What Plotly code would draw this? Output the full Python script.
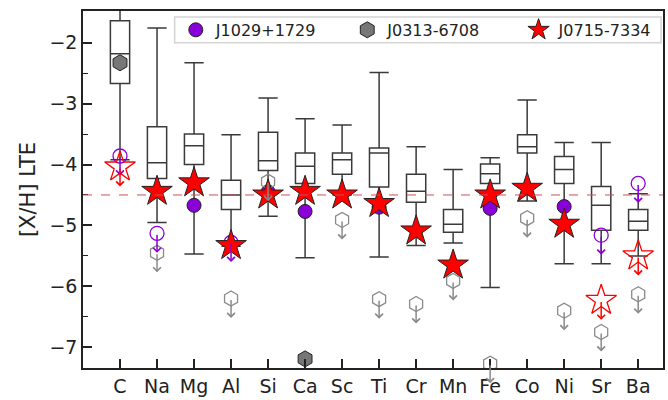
import plotly.graph_objects as go

elements = ["C", "Na", "Mg", "Al", "Si", "Ca", "Sc", "Ti", "Cr", "Mn", "Fe", "Co", "Ni", "Sr", "Ba"]
xpos = list(range(1, len(elements) + 1))

# Box statistics of the comparison sample
box_upper = [-1.40, -1.76, -2.33, -3.51, -2.91, -3.25, -3.35, -2.49, -3.71, -4.08, -3.89, -2.94, -3.64, -3.64, -4.48]
box_q3    = [-1.64, -3.38, -3.50, -4.26, -3.47, -3.81, -3.81, -3.73, -4.16, -4.74, -3.99, -3.51, -3.87, -4.36, -4.74]
box_med   = [-2.18, -3.97, -3.69, -4.50, -3.94, -4.03, -3.92, -3.81, -4.44, -4.98, -4.15, -3.71, -4.08, -4.67, -4.93]
box_q1    = [-2.67, -4.23, -4.00, -4.74, -4.10, -4.31, -4.16, -4.37, -4.62, -5.11, -4.31, -3.81, -4.31, -5.08, -5.08]
box_lower = [-3.92, -4.95, -5.47, -5.34, -4.85, -5.53, -4.50, -5.52, -5.33, -5.29, -6.02, -4.60, -5.63, -5.63, -5.50]

# J1029+1729
j1029_det_el = ["Mg", "Si", "Ca", "Ti", "Fe", "Ni"]
j1029_det_val = [-4.67, -4.45, -4.77, -4.70, -4.72, -4.69]
j1029_lim_el = ["C", "Na", "Al", "Sr", "Ba"]
j1029_lim_val = [-3.86, -5.13, -5.28, -5.16, -4.31]

# J0313-6708
j0313_det_el = ["C", "Ca"]
j0313_det_val = [-2.33, -7.19]
j0313_lim_el = ["Na", "Al", "Si", "Sc", "Ti", "Cr", "Mn", "Fe", "Co", "Ni", "Sr", "Ba"]
j0313_lim_val = [-5.45, -6.20, -4.28, -4.91, -6.21, -6.29, -5.91, -7.27, -4.88, -6.40, -6.75, -6.13]

# J0715-7334
j0715_det_el = ["Na", "Mg", "Al", "Si", "Ca", "Sc", "Ti", "Cr", "Mn", "Fe", "Co", "Ni"]
j0715_det_val = [-4.44, -4.30, -5.33, -4.50, -4.44, -4.50, -4.64, -5.09, -5.65, -4.50, -4.39, -4.98]
j0715_lim_el = ["C", "Sr", "Ba"]
j0715_lim_val = [-4.04, -6.23, -5.50]

ref_level = -4.5
arrow_len = 0.32

PURPLE = "#8a00d8"
GRAY = "#8a8a8a"
RED = "#ff0000"
FONT = "DejaVu Sans"

pos = {e: i + 1 for i, e in enumerate(elements)}

fig = go.Figure()

fig.add_trace(go.Box(
    x=xpos, q1=box_q1, median=box_med, q3=box_q3,
    lowerfence=box_lower, upperfence=box_upper,
    width=0.52, whiskerwidth=1, fillcolor="white",
    line=dict(color="#3a3a3a", width=1.5), boxpoints=False,
    showlegend=False, hoverinfo="skip",
))

def limits(els, vals, symbol, color, size):
    for e, v in zip(els, vals):
        fig.add_annotation(
            x=pos[e], y=v - arrow_len, ax=pos[e], ay=v, xref="x", yref="y",
            axref="x", ayref="y", text="", showarrow=True, arrowhead=4,
            arrowsize=1, arrowwidth=1.5, arrowcolor=color,
        )
    fig.add_trace(go.Scatter(
        x=[pos[e] for e in els], y=vals, mode="markers", showlegend=False,
        marker=dict(symbol=symbol, size=size, color=color,
                    line=dict(color=color, width=1.3)),
    ))

# purple
limits(j1029_lim_el, j1029_lim_val, "circle-open", PURPLE, 14)
fig.add_trace(go.Scatter(
    x=[pos[e] for e in j1029_det_el], y=j1029_det_val, mode="markers",
    name="J1029+1729", legend="legend",
    marker=dict(symbol="circle", size=14, color=PURPLE, line=dict(color="#222", width=1)),
))
# gray hexagons
limits(j0313_lim_el, j0313_lim_val, "hexagon-open", GRAY, 15)
fig.add_trace(go.Scatter(
    x=[pos[e] for e in j0313_det_el], y=j0313_det_val, mode="markers",
    name="J0313-6708", legend="legend2",
    marker=dict(symbol="hexagon", size=16, color="#777777", line=dict(color="#222", width=1)),
))
# red stars
limits(j0715_lim_el, j0715_lim_val, "star-open", RED, 23)
fig.add_trace(go.Scatter(
    x=[pos[e] for e in j0715_det_el], y=j0715_det_val, mode="markers",
    name="J0715-7334", legend="legend3",
    marker=dict(symbol="star", size=23, color=RED, line=dict(color="#222", width=1)),
))

fig.add_shape(type="line", xref="paper", x0=0, x1=1, yref="y", y0=ref_level, y1=ref_level,
              line=dict(color="#c8505a", width=1, dash="dash"), layer="above")

# legend frame
fig.add_shape(type="rect", xref="paper", yref="paper", x0=0.158, x1=0.9966, y0=0.911, y1=0.983,
              fillcolor="rgba(255,255,255,0.85)", line=dict(color="#d4d4d4", width=1.5),
              layer="above")

def leg(x):
    return dict(orientation="h", x=x, y=0.947, xanchor="left", yanchor="middle",
                bgcolor="rgba(0,0,0,0)", borderwidth=0,
                font=dict(size=16, family=FONT, color="#222"), itemsizing="trace")

fig.update_layout(
    width=668, height=400,
    margin=dict(l=83, r=3, t=11, b=29),
    paper_bgcolor="white", plot_bgcolor="white",
    font=dict(family=FONT, color="#222"),
    legend=leg(0.160), legend2=leg(0.4556), legend3=leg(0.751),
    xaxis=dict(range=[0, 15.67], tickmode="array", tickvals=xpos, ticktext=elements,
               ticks="inside", ticklen=9, tickwidth=1.5, tickcolor="#222",
               showline=True, linecolor="#222", linewidth=1.5, mirror=True,
               showgrid=False, zeroline=False, tickfont=dict(size=19, family=FONT)),
    yaxis=dict(range=[-7.34, -1.48], tickmode="array", tickvals=[-7, -6, -5, -4, -3, -2],
               ticks="inside", ticklen=9, tickwidth=1.5, tickcolor="#222",
               minor=dict(tickvals=[-7.0, -6.5, -5.5, -4.5, -3.5, -2.5], ticks="inside",
                          ticklen=5, tickwidth=1.2, tickcolor="#222"),
               showline=True, linecolor="#222", linewidth=1.5, mirror=True,
               showgrid=False, zeroline=False, tickfont=dict(size=19, family=FONT),
               title=dict(text="[X/H] LTE", font=dict(size=21, family=FONT), standoff=8)),
)

fig.write_html("out.html")
